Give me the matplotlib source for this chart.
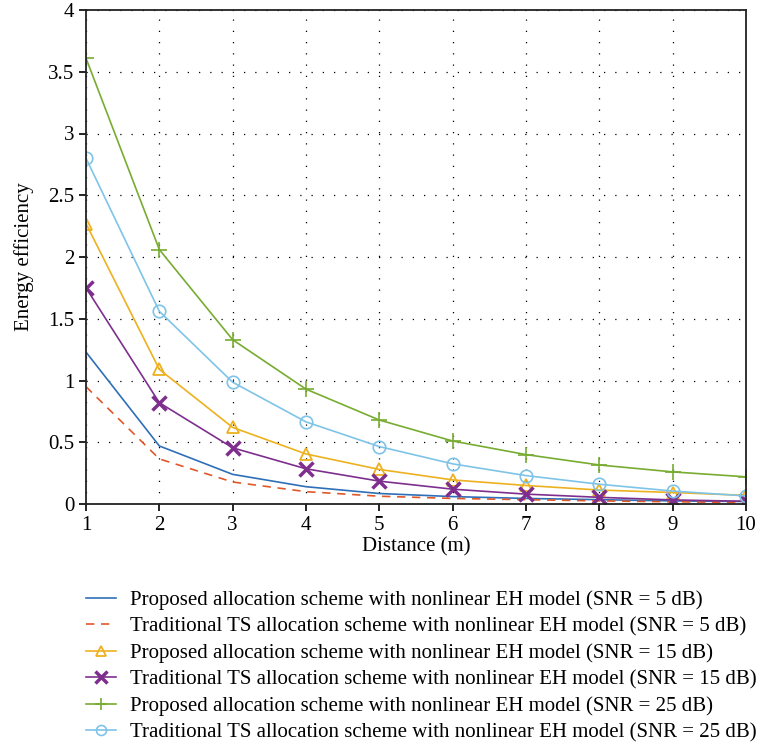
import matplotlib.pyplot as plt

# distance (m)
distance = [1, 2, 3, 4, 5, 6, 7, 8, 9, 10]

# energy efficiency
prop_5 = [1.23, 0.47, 0.24, 0.14, 0.085, 0.06, 0.045, 0.035, 0.025, 0.02]
trad_5 = [0.95, 0.365, 0.178, 0.10, 0.063, 0.045, 0.035, 0.025, 0.018, 0.012]
prop_15 = [2.27, 1.09, 0.62, 0.405, 0.28, 0.195, 0.15, 0.113, 0.093, 0.07]
trad_15 = [1.75, 0.82, 0.455, 0.285, 0.185, 0.12, 0.08, 0.054, 0.033, 0.022]
prop_25 = [3.61, 2.06, 1.33, 0.93, 0.68, 0.51, 0.40, 0.316, 0.26, 0.22]
trad_25 = [2.80, 1.56, 0.986, 0.665, 0.465, 0.325, 0.23, 0.16, 0.105, 0.065]

labels = [
    'Proposed allocation scheme with nonlinear EH model (SNR = 5 dB)',
    'Traditional TS allocation scheme with nonlinear EH model (SNR = 5 dB)',
    'Proposed allocation scheme with nonlinear EH model (SNR = 15 dB)',
    'Traditional TS allocation scheme with nonlinear EH model (SNR = 15 dB)',
    'Proposed allocation scheme with nonlinear EH model (SNR = 25 dB)',
    'Traditional TS allocation scheme with nonlinear EH model (SNR = 25 dB)',
]

plt.rcParams['font.family'] = ['Liberation Serif', 'DejaVu Serif']
plt.rcParams['font.size'] = 15

fig = plt.figure(figsize=(7.61, 7.47), dpi=100)
ax = fig.add_axes([86 / 761, 1 - 504 / 747, 660 / 761, 494 / 747])

ax.plot(distance, prop_5, color='#2f6fb8', lw=1.2, label=labels[0])
ax.plot(distance, trad_5, color='#e0582a', lw=1.2, ls=(0, (5, 4)), label=labels[1])
ax.plot(distance, prop_15, color='#edb120', lw=1.2, marker='^', ms=9,
        mfc='none', mew=1.3, label=labels[2])
ax.plot(distance, trad_15, color='#7e2f8e', lw=1.2, marker='x', ms=10,
        mew=2.5, label=labels[3])
ax.plot(distance, prop_25, color='#77ac30', lw=1.2, marker='+', ms=11,
        mew=1.2, label=labels[4])
ax.plot(distance, trad_25, color='#7ec4e8', lw=1.2, marker='o', ms=9,
        mfc='none', mew=1.2, label=labels[5])

ax.set_xlim(1, 10)
ax.set_ylim(0, 4)
ax.set_xticks(range(1, 11))
ax.set_yticks([0, 0.5, 1, 1.5, 2, 2.5, 3, 3.5, 4])
ax.set_yticklabels(['0', '0.5', '1', '1.5', '2', '2.5', '3', '3.5', '4'])
ax.grid(True, color='black', ls=(0, (1, 8)), lw=0.9)
ax.tick_params(direction='out', length=5, width=1.2, labelsize=15)
for s in ax.spines.values():
    s.set_linewidth(1.3)
    s.set_color('#222222')
ax.set_xlabel('Distance (m)', fontsize=15, labelpad=2)
ax.set_ylabel('Energy efficiency', fontsize=15, labelpad=10)

ax.legend(loc='upper left', bbox_to_anchor=(-0.012, -0.158), frameon=False,
          fontsize=15, handlelength=1.4, handletextpad=0.67, labelspacing=0.33,
          borderaxespad=0, markerscale=0.8)

fig.savefig('out.png', dpi=100)
